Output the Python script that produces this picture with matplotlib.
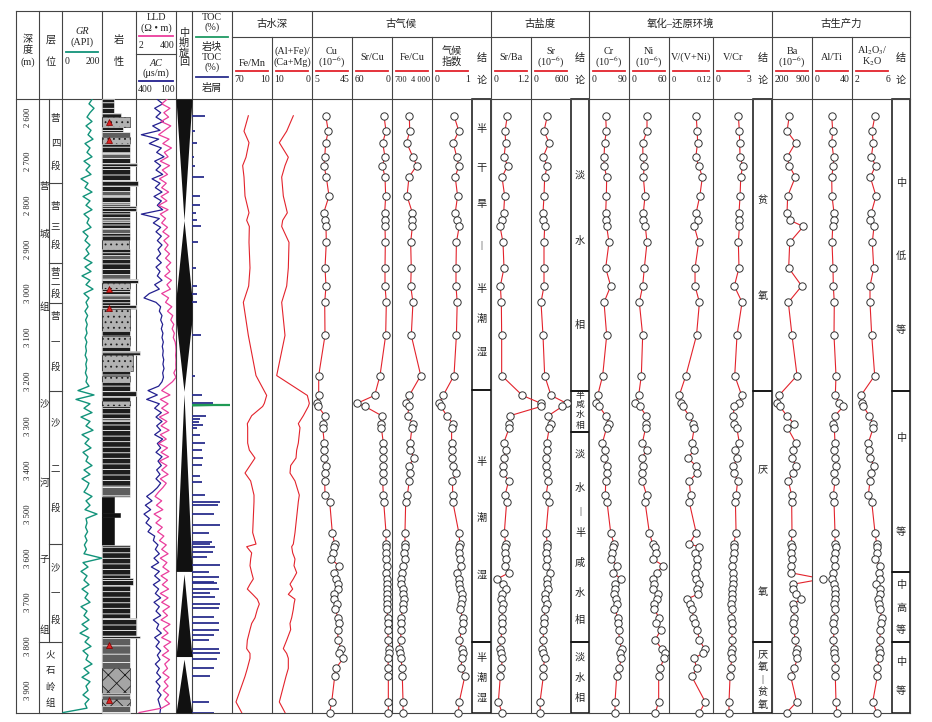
import matplotlib
matplotlib.use('Agg')
import matplotlib.pyplot as plt
from matplotlib.patches import Rectangle
import numpy as np

plt.rcParams['font.family'] = ['Liberation Serif', 'Noto Sans CJK SC']
plt.rcParams['mathtext.fontset'] = 'stix'
plt.rcParams['hatch.linewidth'] = 0.6

# ---------------- data ----------------
depth_ticks = list(range(2600, 4000, 100))

log_depth = list(range(2560, 3960, 10))
gr = [150, 135, 160, 140, 125, 150, 120, 145, 130, 155,
      115, 140, 125, 150, 110, 140, 120, 145, 95, 130,
      115, 150, 105, 140, 120, 150, 110, 135, 125, 145,
      105, 130, 115, 140, 120, 135, 110, 150, 115, 145,
      100, 140, 120, 155, 110, 135, 120, 130, 115, 128,
      118, 126, 120, 125, 115, 124, 118, 122, 116, 125,
      119, 123, 117, 126, 120, 135, 80, 160, 70, 140,
      110, 150, 95, 140, 120, 155, 100, 135, 115, 145,
      105, 130, 120, 150, 110, 140, 100, 135, 125, 110,
      150, 120, 140, 115, 175, 120, 125, 118, 128, 115,
      125, 112, 122, 110, 200, 105, 130, 95, 125, 110,
      135, 100, 130, 115, 140, 95, 125, 110, 135, 100,
      130, 90, 135, 115, 145, 105, 130, 120, 150, 110,
      135, 100, 140, 120, 130, 105, 135, 115, 125, 5]
ac = [240, 200, 260, 215, 250, 195, 275, 220, 360, 230,
      300, 210, 245, 190, 260, 215, 250, 200, 280, 220,
      255, 205, 265, 210, 240, 200, 360, 225, 270, 215,
      250, 210, 240, 205, 235, 215, 245, 210, 250, 220,
      240, 205, 260, 225, 300, 340, 250, 215, 225, 205,
      215, 200, 210, 198, 205, 195, 203, 196, 200, 192,
      198, 190, 200, 194, 205, 230, 310, 240, 320, 225,
      260, 210, 250, 205, 245, 215, 260, 200, 240, 215,
      250, 205, 235, 210, 245, 220, 250, 215, 240, 275,
      320, 280, 330, 290, 340, 300, 325, 285, 310, 260,
      270, 235, 255, 225, 265, 230, 285, 225, 260, 220,
      270, 230, 255, 215, 265, 225, 250, 215, 270, 230,
      245, 210, 260, 225, 250, 215, 240, 220, 255, 225,
      245, 215, 250, 220, 240, 212, 235, 225, 215, 220]
lld = [120, 60, 180, 80, 150, 55, 200, 90, 40, 160,
       70, 220, 85, 140, 50, 170, 65, 130, 45, 110,
       60, 150, 55, 120, 40, 140, 50, 100, 60, 130,
       70, 160, 80, 140, 90, 170, 100, 200, 110, 180,
       90, 220, 120, 190, 60, 150, 100, 230, 130, 260,
       200, 300, 240, 320, 280, 360, 390, 400, 380, 400,
       390, 400, 300, 400, 250, 120, 60, 180, 50, 140,
       60, 150, 45, 120, 55, 160, 50, 110, 40, 130,
       55, 150, 45, 120, 60, 140, 50, 110, 70, 40,
       25, 60, 30, 70, 22, 55, 28, 65, 35, 80,
       45, 110, 60, 140, 50, 120, 70, 160, 55, 130,
       65, 150, 50, 140, 60, 170, 70, 130, 55, 180,
       75, 140, 60, 200, 80, 150, 65, 170, 90, 130,
       70, 160, 85, 140, 75, 150, 90, 170, 60, 3]

lith_top = [2559, 2590, 2600, 2622, 2634, 2646, 2660, 2682, 2692, 2704,
            2712, 2744, 2756, 2768, 2778, 2792, 2802, 2812, 2826, 2838,
            2852, 2862, 2878, 2900, 2912, 2922, 2956, 2966, 2976, 2990,
            3002, 3012, 3026, 3036, 3084, 3096, 3120, 3130, 3140, 3176,
            3186, 3200, 3222, 3232, 3244, 3256, 3282, 3290, 3438, 3462,
            3498, 3506, 3570, 3645, 3660, 3735, 3776, 3782, 3850, 3905,
            3920, 3936]
lith_base = lith_top[1:] + [3951]
lith_width = [0.35, 0.55, 0.82, 0.62, 0.82, 0.82, 0.82, 0.82, 0.82, 1.02,
              0.82, 1.05, 0.82, 0.82, 0.82, 0.82, 1.0, 0.82, 0.82, 0.82,
              0.82, 0.82, 0.78, 0.82, 0.82, 0.82, 0.82, 1.05, 0.82, 0.82,
              0.82, 0.82, 1.0, 0.82, 0.82, 0.82, 0.82, 1.12, 0.92, 0.82,
              0.82, 0.82, 1.0, 0.82, 0.82, 0.82, 0.82, 0.82, 0.82, 0.35,
              0.52, 0.35, 0.82, 0.9, 0.82, 1.0, 1.12, 0.82, 0.82, 0.82,
              0.82, 0.82]
lith_kind = ['mud', 'mud', 'sand', 'mud', 'silt', 'sand', 'mud', 'silt', 'mud', 'mud',
             'mud', 'mud', 'mud', 'silt', 'mud', 'silt', 'mud', 'mud', 'silt', 'mud',
             'silt', 'mud', 'sand', 'mud', 'silt', 'mud', 'silt', 'mud', 'sand', 'mud',
             'silt', 'mud', 'mud', 'sand', 'mud', 'sand', 'mud', 'mud', 'sand', 'mud',
             'sand', 'mud', 'mud', 'mud', 'sand', 'mud', 'silt', 'mud', 'silt', 'coal',
             'coal', 'coal', 'mud', 'mud', 'mud', 'mud', 'mud', 'silt', 'volc', 'silt',
             'volc', 'silt']
lith_marks = [2611, 2652, 2989, 3032, 3797, 3922]

# medium-term cycles: depth / relative width of the black fill
cycle_segments = [([2559, 2834, 3010, 3060, 3222], [1, 0, 1, 1, 0]),
                  ([3228, 3630], [0, 1]),
                  ([3636, 3823], [0, 1]),
                  ([3829, 3951], [0, 1])]

toc_depth = [2597, 2632, 2658, 2691, 2710, 2736, 2779, 2800, 2817, 2834,
             2848, 2884, 2942, 2983, 3001, 3020, 3095, 3186, 3231, 3249,
             3277, 3285, 3291, 3298, 3306, 3320, 3339, 3354, 3372, 3389,
             3414, 3427, 3457, 3472, 3480, 3500, 3525, 3543, 3563, 3568,
             3574, 3586, 3597, 3616, 3631, 3642, 3654, 3657, 3669, 3680,
             3688, 3703, 3714, 3733, 3747, 3762, 3775, 3786, 3805, 3816,
             3828, 3850, 3868, 3926, 3950]
toc_cutting = [1.3, 0.3, 0.47, 0.23, 0.3, 1.2, 0.8, 0.8, 0.4, 0.47,
               0.9, 0.63, 0.4, 0.53, 0.53, 0.53, 0.87, 0.3, 0.97, 2.1,
               1.4, 0.8, 0.7, 1.1, 0.5, 0.8, 1.3, 1.0, 1.1, 1.0,
               0.8, 1.0, 1.3, 2.8, 2.6, 2.2, 2.8, 1.7, 2.0, 1.8,
               2.3, 2.1, 1.5, 2.8, 1.7, 2.7, 2.2, 2.5, 2.7, 1.8,
               2.3, 2.8, 2.7, 2.2, 2.7, 2.7, 2.2, 1.7, 2.7, 2.8,
               2.5, 2.2, 1.8, 1.7, 2.2]
toc_block_depth = 3253
toc_block = 3.8

sample_depth = [2597, 2632, 2658, 2691, 2710, 2736, 2779, 2817, 2834, 2848,
                2884, 2942, 2983, 3020, 3095, 3186, 3231, 3249, 3256,
                3277, 3295, 3304, 3339, 3355, 3373, 3390, 3407, 3425, 3457,
                3472, 3542, 3568, 3574, 3588, 3602, 3617, 3633, 3647, 3659,
                3670, 3682, 3693, 3704, 3716, 3735, 3748, 3762, 3786, 3805,
                3816, 3827, 3850, 3868, 3926, 3950]
fe_mn = [45.5, 52, 44.5, 49, 54, 52, 50.5, 44.5, 48, 44, 44.5, 43, 45, 53, 45.5, 34, 18, 21.5, 24,
         40.5, 47, 46.5, 46.5, 44, 35.5, 43, 50.5, 42, 37, 37, 39, 34, 48, 40.5, 42, 43, 40.5,
         38, 43, 47, 39, 32, 29, 32, 35.5, 40.5, 43, 47, 48, 43, 43, 47, 50.5, 64, 55.5]
alfe_camg = [4.67, 6.33, 8.17, 5.92, 6.75, 7.58, 7.17, 6.17, 7.33, 7.58, 5.75, 5.92, 6.33, 7.58,
             6.75, 8.83, 1.17, 0.67, 0.92,
             2.17, 3.42, 3.0, 3.42, 3.83, 4.0, 5.33, 5.5, 4.25, 3.17, 3.42, 4.25, 4.67, 5.08,
             4.83, 4.25, 4.5, 3.83, 4.67, 5.5, 4.83, 5.92, 4.25, 4.5, 4.67, 5.08, 5.5, 5.33,
             6.33, 7.17, 6.33, 5.92, 5.92, 6.5, 8.17, 6.75]
cu = [18.7, 21.3, 18.7, 17.7, 17, 19.3, 22, 16.7, 18, 19, 19.3, 18, 19, 17.7, 18, 11.7, 11.7, 9.7, 11,
      18, 16.3, 15.7, 17.3, 17, 16.7, 18.7, 17.7, 17.7, 18, 22.7, 25.3, 27.7, 27, 25.7, 24.3,
      31.7, 27.3, 29, 31.3, 30.7, 27, 27, 29.7, 28.3, 31, 31.7, 30.7, 31, 34, 32.3, 36.3,
      28.7, 27.7, 24.7, 22.7]
sr_cu = [12, 9, 14, 10.5, 14.5, 10.5, 9.5, 11, 10, 10.5, 10, 10.5, 10.5, 8.5, 9.5, 18, 26, 52.5, 40.5,
         15.5, 17, 16, 13, 13, 13.5, 13, 13, 14, 13, 12.5, 9, 9, 9, 8.5, 9, 8, 8.5, 8, 7.5,
         7.5, 7.5, 7.5, 8, 7.5, 6.5, 6, 6, 6, 5, 5, 5.5, 6, 5.5, 5.5, 5.5]
fe_cu = [2130, 2160, 1910, 2430, 2740, 2100, 1940, 2380, 2350, 2380, 2240, 2290, 2240, 2430,
         2290, 3070, 2130, 1880, 2100,
         1990, 2410, 2350, 2190, 2190, 2540, 2080, 2190, 2130, 1960, 1830, 1770, 1770, 1750,
         1690, 1750, 1640, 1550, 1420, 1420, 1580, 1640, 1690, 1640, 1580, 1440, 1470, 1440,
         1420, 1250, 1360, 1420, 1550, 1550, 1610, 1610]
climate = [0.55, 0.67, 0.53, 0.62, 0.67, 0.58, 0.64, 0.58, 0.62, 0.68, 0.61, 0.60, 0.60, 0.63,
           0.61, 0.55, 0.28, 0.18, 0.22,
           0.37, 0.52, 0.49, 0.49, 0.49, 0.49, 0.53, 0.60, 0.51, 0.52, 0.52, 0.67, 0.70, 0.68,
           0.68, 0.70, 0.72, 0.63, 0.67, 0.67, 0.70, 0.74, 0.74, 0.72, 0.70, 0.77, 0.78, 0.75,
           0.68, 0.76, 0.77, 0.75, 0.72, 0.82, 0.68, 0.66]
sr_ba = [0.49, 0.42, 0.44, 0.39, 0.50, 0.33, 0.41, 0.38, 0.34, 0.27, 0.36, 0.39, 0.28, 0.31,
         0.32, 0.32, 0.94, 1.50, 1.50,
         0.57, 0.54, 0.55, 0.38, 0.44, 0.39, 0.35, 0.36, 0.53, 0.42, 0.47, 0.40, 0.44, 0.42,
         0.42, 0.44, 0.43, 0.54, 0.19, 0.35, 0.45, 0.34, 0.29, 0.35, 0.34, 0.33, 0.34, 0.33,
         0.29, 0.26, 0.29, 0.34, 0.31, 0.28, 0.22, 0.33]
sr = [245, 195, 270, 180, 245, 205, 195, 180, 180, 205, 195, 195, 195, 150, 180, 205, 300, 535, 470,
      260, 295, 275, 235, 245, 225, 225, 245, 260, 225, 265, 225, 245, 235, 225, 235, 225,
      285, 245, 235, 260, 215, 215, 245, 210, 195, 195, 185, 185, 160, 175, 205, 185, 185,
      135, 140]
cr = [37.5, 39, 35.3, 33.8, 33.8, 39.8, 39, 37.5, 37.5, 39.8, 45, 37.5, 48.8, 33.8, 39.8, 30.8,
      19.5, 15.8, 23.3,
      37.5, 45.8, 39.8, 30, 36.8, 33.8, 39.8, 39.8, 37.5, 36.8, 40.5, 48.8, 56.3, 54.8, 52.5,
      48.8, 63.8, 54.8, 71.3, 59.3, 58.5, 56.3, 60.8, 62.3, 57, 66, 66, 66.8, 68.3, 73.5,
      69.8, 72.8, 67.5, 62.3, 58.5, 58.5]
ni = [27, 27, 20.5, 21, 23, 21.5, 24, 21.5, 21.5, 24.5, 27, 23, 20.5, 15.5, 20.5, 18.5, 14.5, 9.5, 16.5,
      25.5, 25.5, 25, 20, 26.5, 19, 21, 20, 20, 26.5, 24, 30.5, 35.5, 39, 40.5, 35.5, 51.5,
      41.5, 35.5, 37.5, 36.5, 44, 42.5, 37.5, 38, 45, 40.5, 48, 39, 49, 53.5, 52.5, 46.5,
      44.5, 44.5, 39.5]
v_vni = [0.074, 0.077, 0.078, 0.073, 0.081, 0.091, 0.084, 0.074, 0.078, 0.069, 0.081, 0.071,
         0.071, 0.083, 0.075, 0.046, 0.028, 0.033, 0.037,
         0.055, 0.066, 0.069, 0.062, 0.069, 0.051, 0.073, 0.076, 0.055, 0.059, 0.055, 0.074,
         0.055, 0.083, 0.072, 0.076, 0.077, 0.071, 0.074, 0.083, 0.077, 0.078, 0.048, 0.057,
         0.064, 0.066, 0.071, 0.077, 0.083, 0.097, 0.092, 0.068, 0.076, 0.062, 0.099, 0.083]
v_cr = [1.90, 1.98, 2.00, 2.03, 2.23, 2.08, 2.03, 1.95, 1.98, 1.98, 1.90, 1.95, 1.60, 2.18,
        1.80, 1.63, 2.15, 1.98, 1.58,
        1.53, 1.58, 1.78, 1.98, 1.65, 1.83, 1.53, 1.58, 1.85, 1.73, 1.68, 1.73, 1.55, 1.55,
        1.55, 1.53, 1.45, 1.53, 1.50, 1.48, 1.45, 1.43, 1.40, 1.38, 1.43, 1.38, 1.43, 1.45,
        1.40, 1.40, 1.38, 1.40, 1.33, 1.28, 1.20, 1.20]
ba = [503, 463, 614, 463, 503, 608, 474, 463, 515, 748, 510, 492, 720, 486, 550, 638, 323, 282, 340,
      457, 585, 468, 620, 573, 544, 620, 562, 486, 544, 544, 550, 538, 544, 538, 550, 538,
      527, 1087, 573, 573, 614, 708, 573, 585, 585, 573, 585, 603, 632, 614, 643, 591, 527,
      632, 457]
al_ti = [19.7, 20.7, 19.7, 21.7, 21.3, 19.7, 20, 22, 21.7, 20.7, 20, 21, 21.3, 22.3, 22, 24,
         23.3, 27.3, 31.3,
         23, 21.3, 22.3, 23, 22, 23, 24, 22, 23, 21.3, 22, 23, 23, 23.7, 23, 22.3, 23, 21.3,
         19.7, 22.3, 23, 23, 22.7, 22, 22.7, 22, 21.3, 22.3, 21.3, 22, 22.3, 23, 23.3, 23.3,
         24, 24.7]
al_k = [4.30, 4.00, 4.13, 3.93, 4.37, 3.83, 4.40, 3.93, 3.80, 4.20, 4.03, 4.17, 3.80, 3.80,
        3.97, 4.27, 2.90, 3.03, 3.13,
        3.73, 4.07, 4.13, 3.63, 3.70, 3.80, 4.20, 3.87, 3.80, 3.63, 3.97, 4.30, 4.47, 4.53,
        4.47, 4.30, 4.80, 4.73, 4.80, 4.40, 4.80, 4.80, 4.63, 4.73, 4.80, 4.97, 4.87, 4.80,
        4.80, 4.70, 4.80, 4.73, 4.53, 4.53, 4.07, 4.47]

# ---------------- layout ----------------
W, H = 932, 722
TOP, BOT = 99, 713
D_TOP, D_BOT = 2559, 3951
RED = '#e3232c'
GR_C = '#12937a'
AC_C = '#23208f'
LLD_C = '#ea3d9c'
TOC_C = '#2a2e8c'
INK = '#2b2b2b'

fig = plt.figure(figsize=(W / 100, H / 100), dpi=100)
ov = fig.add_axes([0, 0, 1, 1])
ov.set_xlim(0, W)
ov.set_ylim(H, 0)
ov.axis('off')


def track(x0, x1, xlim, xscale='linear'):
    ax = fig.add_axes([x0 / W, 1 - BOT / H, (x1 - x0) / W, (BOT - TOP) / H])
    ax.set_xscale(xscale)
    ax.set_xlim(*xlim)
    ax.set_ylim(D_BOT, D_TOP)
    ax.axis('off')
    return ax


def vline(x, y0=11, y1=BOT, **kw):
    ov.plot([x, x], [y0, y1], color=kw.pop('color', '#444444'), lw=kw.pop('lw', 0.8), **kw)


def hline(y, x0, x1, **kw):
    ov.plot([x0, x1], [y, y], color=kw.pop('color', '#444444'), lw=kw.pop('lw', 0.8), **kw)


def txt(x, y, s, size=7.3, ha='center', **kw):
    ov.text(x, y, s, fontsize=size, ha=ha, va='center', color='#222222', **kw)


# table frame
for x in [16, 39, 62, 102, 136, 176, 192, 232, 312, 491, 589, 772, 910]:
    vline(x)
for x in [272, 352, 392, 432, 531, 629, 669, 713, 812, 852]:
    vline(x, 37)
for y, x0, x1 in [(11, 16, 910), (37, 232, 910), (99, 16, 910), (BOT, 16, 910), (54, 136, 176)]:
    hline(y, x0, x1)

# left headers
txt(27.5, 39, '深'); txt(27.5, 50, '度'); txt(27.5, 62, '(m)')
txt(50.5, 40, '层'); txt(50.5, 62, '位')
txt(82, 32, 'GR', style='italic'); txt(82, 42, '(API)')
ov.plot([66, 98], [52, 52], color=GR_C, lw=1.3)
txt(65, 62, '0', ha='left', size=7); txt(100, 62, '200', ha='right', size=7)
txt(119, 40, '岩'); txt(119, 62, '性')
txt(156, 18, 'LLD'); txt(156, 28, '(Ω • m)')
ov.plot([139, 173], [36, 36], color=LLD_C, lw=1.3)
txt(139, 45, '2', ha='left', size=7); txt(174.5, 45, '400', ha='right', size=7)
txt(156, 63, 'AC', style='italic'); txt(156, 73, '(μs/m)')
ov.plot([139, 173], [81, 81], color=AC_C, lw=1.3)
txt(137.5, 89, '400', ha='left', size=7); txt(175, 89, '100', ha='right', size=7)
for y, c in zip([33, 43, 53, 63], '中期旋回'):
    txt(184, y, c)
txt(212, 17, 'TOC'); txt(212, 27, '(%)')
ov.plot([196, 228], [37, 37], color='#1f9a63', lw=1.3)
txt(212, 47, '岩块'); txt(212, 57, 'TOC'); txt(212, 67, '(%)')
ov.plot([196, 228], [77, 77], color=TOC_C, lw=1.3)
txt(212, 88, '岩屑')

# group titles
for x, s in [(272, '古水深'), (401.5, '古气候'), (540, '古盐度'),
             (680.5, '氧化–还原环境'), (841, '古生产力')]:
    txt(x, 24, s, size=7.5)

# geochemistry column headers
heads = [(232, 272, ['Fe/Mn'], '70', '10'),
         (272, 312, ['(Al+Fe)/', '(Ca+Mg)'], '10', '0'),
         (312, 352, ['Cu', '(10$^{-6}$)'], '5', '45'),
         (352, 392, ['Sr/Cu'], '60', '0'),
         (392, 432, ['Fe/Cu'], '700', '4 000'),
         (432, 472, ['气候', '指数'], '0', '1'),
         (491, 531, ['Sr/Ba'], '0', '1.2'),
         (531, 571, ['Sr', '(10$^{-6}$)'], '0', '600'),
         (589, 629, ['Cr', '(10$^{-6}$)'], '0', '90'),
         (629, 669, ['Ni', '(10$^{-6}$)'], '0', '60'),
         (669, 713, ['V/(V+Ni)'], '0', '0.12'),
         (713, 753, ['V/Cr'], '0', '3'),
         (772, 812, ['Ba', '(10$^{-6}$)'], '200', '900'),
         (812, 852, ['Al/Ti'], '0', '40'),
         (852, 892, ['Al$_2$O$_3$/', 'K$_2$O'], '2', '6')]
for x0, x1, lines, lo, hi in heads:
    xc = (x0 + x1) / 2
    if len(lines) == 1:
        txt(xc, 63 if x0 == 232 else 57, lines[0])
    else:
        txt(xc, 51, lines[0]); txt(xc, 62, lines[1])
    ov.plot([x0 + 4, x1 - 4], [71, 71], color=RED, lw=1.3)
    small = 6.0 if len(hi) > 3 else 7
    txt(x0 + 2.5, 80, lo, ha='left', size=small)
    txt(x1 - 2, 80, hi, ha='right', size=small)

# conclusion columns
concl = {
    (472, 491): ([99, 390, 642, 713],
                 [(129, '半'), (168, '干'), (204, '旱'), (245, '|'), (289, '半'), (319, '潮'),
                  (352, '湿'), (462, '半'), (518, '潮'), (575, '湿'), (658, '半'), (678, '潮'),
                  (698, '湿')]),
    (571, 589): ([99, 391, 432, 642, 713],
                 [(176, '淡'), (241, '水'), (325, '相'), (455, '淡'), (488, '水'), (511, '|'),
                  (533, '半'), (563, '咸'), (593, '水'), (620, '相'), (658, '淡'), (678, '水'),
                  (698, '相')]),
    (753, 772): ([99, 391, 642, 713],
                 [(200, '贫'), (296, '氧'), (470, '厌'), (592, '氧'), (655, '厌'), (667, '氧'),
                  (680, '|'), (692, '贫'), (705, '氧')]),
    (892, 910): ([99, 391, 572, 642, 713],
                 [(183, '中'), (256, '低'), (330, '等'), (438, '中'), (532, '等'), (585, '中'),
                  (608, '高'), (630, '等'), (662, '中'), (691, '等')]),
}
for (x0, x1), (ys, chars) in concl.items():
    xc = (x0 + x1) / 2
    txt(xc, 58, '结'); txt(xc, 80, '论')
    for a, b in zip(ys[:-1], ys[1:]):
        ov.add_patch(Rectangle((x0, a), x1 - x0, b - a, fill=False, ec='#111111', lw=1.1))
    for y, c in chars:
        txt(xc, y, c)
for y, c in zip([396, 405, 415, 426], '半咸水相'):
    txt(580, y, c, size=6.3)

# stratigraphy
vline(49, TOP, 642)
for y in [183, 263, 303, 391, 544]:
    hline(y, 49, 62)
hline(642, 39, 62)
for y, c in [(186, '营'), (234, '城'), (307, '组'), (404, '沙'), (483, '河'), (560, '子'), (630, '组')]:
    txt(44, y, c, size=6.8)
for y, c in [(655, '火'), (671, '石'), (687, '岭'), (703, '组')]:
    txt(50.5, y, c, size=6.8)
for y, c in [(118, '营'), (143, '四'), (166, '段'), (207, '营'), (228, '三'), (245, '段'),
             (272, '营'), (283, '二'), (294, '段'), (317, '营'), (342, '一'), (367, '段'),
             (423, '沙'), (470, '二'), (508, '段'), (568, '沙'), (593, '一'), (620, '段')]:
    txt(55.5, y, c, size=6.8)

# ---------------- tracks ----------------
ax = track(16, 39, (0, 1))
for d in depth_ticks:
    ax.text(0.5, d, f'{d // 1000} {d % 1000:03d}', rotation=90, ha='center', va='center',
            fontsize=6.2, color='#222222')

ax = track(62, 102, (0, 200))
ax.plot(gr, log_depth, color=GR_C, lw=1.0)

ax = track(102, 136, (0, 1))
styles = {'mud': dict(fc='#1d1d1d', ec='white', hatch='---'),
          'coal': dict(fc='#111111', ec='#111111', hatch=None),
          'silt': dict(fc='#5e5e5e', ec='white', hatch='--'),
          'sand': dict(fc='#b2b2b2', ec='#1d1d1d', hatch='...'),
          'volc': dict(fc='#a5a5a5', ec='#1d1d1d', hatch='xx')}
for top, base, w, k in zip(lith_top, lith_base, lith_width, lith_kind):
    ax.barh((top + base) / 2, w, height=base - top, left=0, lw=0.4, clip_on=False, **styles[k])
ax.plot([0.2] * len(lith_marks), lith_marks, '^', color='#e02020', ms=4.5, mec='#7a0000', mew=0.5)

ax = track(136, 176, (400, 100))
ax.plot(ac, log_depth, color=AC_C, lw=0.9)
ax = track(136, 176, (2, 400), 'log')
ax.plot(lld, log_depth, color=LLD_C, lw=0.9)

ax = track(176, 192, (0, 1))
for dep, wid in cycle_segments:
    wid = np.array(wid, dtype=float)
    ax.fill_betweenx(dep, 0.5 - wid / 2, 0.5 + wid / 2, color='#111111', lw=0)

ax = track(192, 232, (0, 4))
ax.hlines(toc_depth, 0, toc_cutting, color=TOC_C, lw=1.3)
ax.fill_betweenx([toc_block_depth - 3, toc_block_depth, toc_block_depth + 2],
                 0, [0, toc_block, 0], color='#1f9a55', lw=0)
ax.hlines(toc_block_depth, 0, toc_block, color='#1f9a55', lw=1.6)

ax = track(232, 272, (70, 10))
ax.plot(fe_mn, sample_depth, color=RED, lw=0.8)
ax = track(272, 312, (10, 0))
ax.plot(alfe_camg, sample_depth, color=RED, lw=0.8)

geo = [(312, 352, (5, 45), cu, True),
       (352, 392, (60, 0), sr_cu, True),
       (392, 432, (700, 4000), fe_cu, True),
       (432, 472, (0, 1), climate, True),
       (491, 531, (0, 1.2), sr_ba, False),
       (531, 571, (0, 600), sr, True),
       (589, 629, (0, 90), cr, True),
       (629, 669, (0, 60), ni, True),
       (669, 713, (0, 0.12), v_vni, True),
       (713, 753, (0, 3), v_cr, True),
       (772, 812, (200, 900), ba, True),
       (812, 852, (0, 40), al_ti, True),
       (852, 892, (2, 6), al_k, True)]
for x0, x1, lim, vals, clip in geo:
    ax = track(x0, x1, lim)
    ax.plot(vals, sample_depth, color=RED, lw=0.8, clip_on=clip, zorder=1)
    ax.plot(vals, sample_depth, 'o', ms=5.3, mfc='white', mec='#333333', mew=0.7,
            clip_on=False, zorder=2)

fig.savefig('out.png', dpi=100)
